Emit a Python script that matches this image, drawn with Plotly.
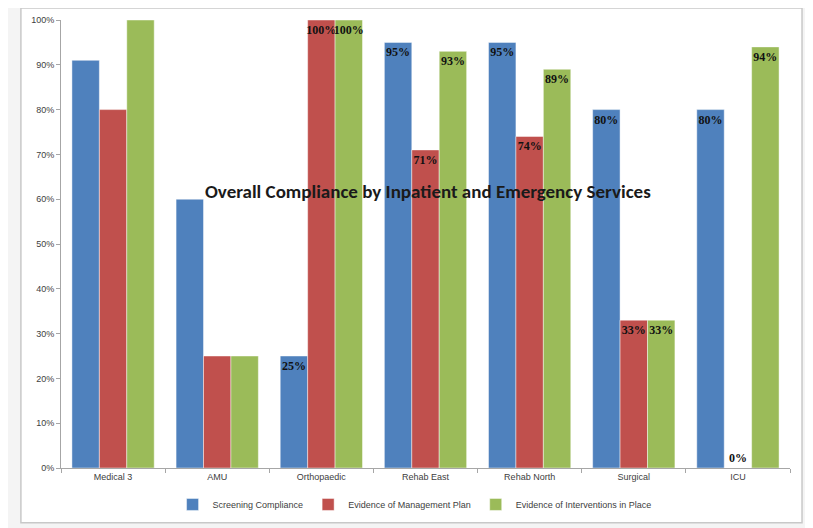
import plotly.graph_objects as go

categories = ["Medical 3", "AMU", "Orthopaedic", "Rehab East", "Rehab North", "Surgical", "ICU"]
screening = [91, 60, 25, 95, 95, 80, 80]
management = [80, 25, 100, 71, 74, 33, 0]
interventions = [100, 25, 100, 93, 89, 33, 94]
# which bars carry a data label in the reference
show_label = [False, False, True, True, True, True, True]
series_names = ["Screening Compliance", "Evidence of Management Plan", "Evidence of Interventions in Place"]
colors = ["#4F81BD", "#C0504D", "#9BBB59"]
y_ticks = [0, 10, 20, 30, 40, 50, 60, 70, 80, 90, 100]
title_text = "Overall Compliance by Inpatient and Emergency Services"

fig = go.Figure()
for name, vals, col in zip(series_names, [screening, management, interventions], colors):
    texts = [f"{v}%" if s else "" for v, s in zip(vals, show_label)]
    positions = ["outside" if v == 0 else "inside" for v in vals]
    fig.add_trace(go.Bar(
        x=categories, y=vals, name=name,
        marker=dict(color=col, line=dict(color="rgba(255,255,255,0.45)", width=1)),
        text=texts, textposition=positions, insidetextanchor="end", textangle=0,
        constraintext="none", cliponaxis=False,
        textfont=dict(family="Liberation Serif", size=12, color="#111111", weight="bold"),
        hoverinfo="x+y",
    ))

# the page body adds an 8px offset, so the figure is sized to fit 813x528 from there
fig.update_layout(
    width=805, height=520,
    margin=dict(l=53, r=23, t=12, b=60, autoexpand=False),
    barmode="group", bargap=0.21, bargroupgap=0,
    paper_bgcolor="#f4f4f4", plot_bgcolor="rgba(0,0,0,0)",
    font=dict(family="Carlito, Calibri, Liberation Sans, sans-serif", size=9, color="#404040"),
    showlegend=True,
    legend=dict(orientation="h", x=0.485, xanchor="center", y=-0.049, yanchor="top",
                font=dict(family="Liberation Sans", size=9, color="#404040"),
                itemwidth=30, tracegroupgap=0, bgcolor="rgba(0,0,0,0)"),
    xaxis=dict(type="category", showline=True, linecolor="#a6a6a6", linewidth=1,
               ticks="outside", tickson="boundaries", ticklen=4, tickcolor="#a6a6a6",
               tickfont=dict(family="Liberation Sans", size=9, color="#404040"),
               showgrid=False, zeroline=False, automargin=False),
    yaxis=dict(range=[0, 100], tickvals=y_ticks, ticktext=[f"{t}%" for t in y_ticks],
               showline=True, linecolor="#a6a6a6", linewidth=1, ticks="outside",
               ticklen=4, tickcolor="#a6a6a6", showgrid=False, zeroline=False, automargin=False,
               tickfont=dict(family="Liberation Sans", size=9, color="#404040")),
    shapes=[dict(type="rect", xref="paper", yref="paper", layer="below",
                 x0=-0.055, x1=1.0165, y0=-0.122, y1=1.027,
                 fillcolor="white", line=dict(color="#c8c8c8", width=1.5))],
    annotations=[dict(text=f"<b>{title_text}</b>", xref="paper", yref="paper",
                      x=0.503, y=0.617, showarrow=False, xanchor="center", yanchor="middle",
                      font=dict(family="Carlito, Calibri, Liberation Sans", size=19, color="#1a1a1a"))],
)

fig.write_html("out.html")
